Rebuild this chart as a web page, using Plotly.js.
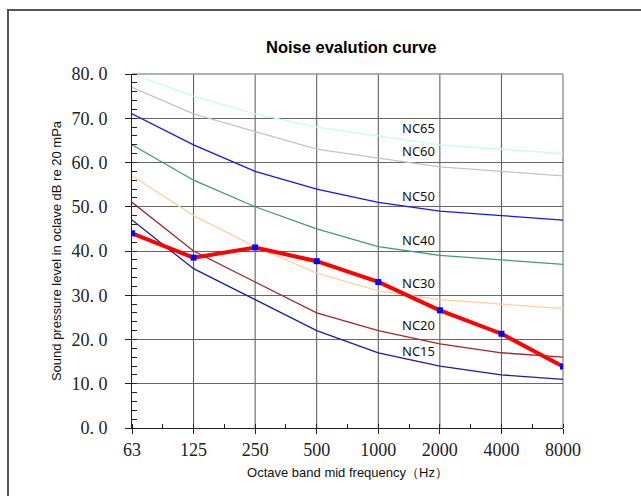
<!DOCTYPE html>
<html>
<head>
<meta charset="utf-8">
<script src="https://cdn.plot.ly/plotly-3.0.1.min.js"></script>
<style>
  html, body { margin: 0; padding: 0; background: #fff; }
  #wrap { position: relative; width: 641px; height: 496px; }
  #chart { position: absolute; left: 0; top: 0; width: 641px; height: 496px; }
  #frame { position: absolute; left: 7px; top: 9px; width: 700px; height: 600px;
           border-left: 2px solid #555; border-top: 2px solid #555; pointer-events: none; }
</style>
</head>
<body>
<div id="wrap">
  <div id="chart"></div>
  <div id="frame"></div>
</div>
<script>
// Octave band centre frequencies (category labels)
const frequencies = ["63", "125", "250", "500", "1000", "2000", "4000", "8000"];

// NC curves (dB)
const nc15 = [47, 36, 29, 22, 17, 14, 12, 11];
const nc20 = [51, 40, 33, 26, 22, 19, 17, 16];
const nc30 = [57, 48, 41, 35, 31, 29, 28, 27];
const nc40 = [64, 56, 50, 45, 41, 39, 38, 37];
const nc50 = [71, 64, 58, 54, 51, 49, 48, 47];
const nc60 = [77, 71, 67, 63, 61, 59, 58, 57];
const nc65 = [80, 75, 71, 68, 66, 64, 63, 62];

// Measured spectrum (dB)
const measured = [44, 38.5, 40.8, 37.7, 33, 26.6, 21.3, 13.9];

// Y tick labels
const yTickVals = [0, 10, 20, 30, 40, 50, 60, 70, 80];
const yTickText = ["0. 0", "10. 0", "20. 0", "30. 0", "40. 0", "50. 0", "60. 0", "70. 0", "80. 0"];

// Curve labels
const ncNames = ["NC65", "NC60", "NC50", "NC40", "NC30", "NC20", "NC15"];

// category index of each band (equal spacing, like a category axis)
const bandIndex = frequencies.map((f, i) => i);

function ncTrace(y, color) {
  return { x: bandIndex, y: y, type: "scatter", mode: "lines",
           line: { color: color, width: 1.3 }, hoverinfo: "skip", showlegend: false };
}

const traces = [
  ncTrace(nc65, "#c4fbfb"),
  ncTrace(nc60, "#c4c4c4"),
  ncTrace(nc50, "#1414ff"),
  ncTrace(nc40, "#3f9f6c"),
  ncTrace(nc30, "#fdd0a2"),
  ncTrace(nc20, "#9c2a2a"),
  ncTrace(nc15, "#1c1ca0"),
  { x: bandIndex, y: measured, type: "scatter", mode: "lines+markers",
    line: { color: "#ff0000", width: 4 },
    marker: { symbol: "square", size: 6, color: "#0000ff" },
    showlegend: false }
];

const labelY = [67.8, 62.6, 52.4, 42.5, 32.8, 23.3, 17.4];
const annotations = ncNames.map((n, i) => ({
  text: n, x: 4.95, y: labelY[i], xref: "x", yref: "y",
  xanchor: "right", yanchor: "middle", showarrow: false,
  font: { family: "Noto Sans, Liberation Sans, sans-serif", size: 13, color: "#111" }
}));

// vertical grid lines at each band, drawn below the data
const vGrid = bandIndex.slice(1, -1).map(i => ({
  type: "line", xref: "x", yref: "paper", x0: i, x1: i, y0: 0, y1: 1,
  line: { color: "#555", width: 1 }, layer: "below"
}));
// light top and right plot edges
const edges = [
  { type: "line", xref: "paper", yref: "paper", x0: 0, x1: 1, y0: 1, y1: 1, line: { color: "#999", width: 1.5 }, layer: "below" },
  { type: "line", xref: "paper", yref: "paper", x0: 1, x1: 1, y0: 0, y1: 1, line: { color: "#999", width: 1.5 }, layer: "below" }
];

const layout = {
  width: 641, height: 496,
  margin: { l: 132, r: 78, t: 74, b: 68 },
  paper_bgcolor: "#fff", plot_bgcolor: "#fff",
  title: { text: "<b>Noise evalution curve</b>", x: 0.548, xanchor: "center", y: 0.905, yanchor: "middle",
           font: { family: "Liberation Sans, Arial, sans-serif", size: 16.5, color: "#000" } },
  xaxis: {
    type: "linear", range: [0, 7],
    tickmode: "array", tickvals: bandIndex, ticktext: frequencies,
    showgrid: false,
    showline: true, linecolor: "#222", linewidth: 1,
    ticks: "outside", ticklen: 5, tickcolor: "#222",
    minor: { tickmode: "linear", tick0: 0, dtick: 0.5, ticks: "inside", ticklen: 4, tickcolor: "#222", showgrid: false },
    tickfont: { family: "Liberation Serif, DejaVu Serif, serif", size: 18, color: "#222" },
    ticklabelstandoff: 0,
    zeroline: false,
    title: { text: "Octave band mid frequency（Hz）", standoff: 9,
             font: { family: "Liberation Sans, Arial, sans-serif", size: 13, color: "#111" } }
  },
  yaxis: {
    range: [0, 80], tickmode: "array", tickvals: yTickVals, ticktext: yTickText,
    showgrid: true, gridcolor: "#666", gridwidth: 1,
    showline: true, linecolor: "#222", linewidth: 1,
    ticks: "outside", ticklen: 6, tickcolor: "#222",
    minor: { tickmode: "linear", tick0: 0, dtick: 2, ticks: "inside", ticklen: 5, tickcolor: "#222", showgrid: false },
    tickfont: { family: "Liberation Serif, DejaVu Serif, serif", size: 18, color: "#222" },
    ticklabelstandoff: 14,
    zeroline: false,
    title: { text: "Sound pressure level in oclave dB re 20 mPa", standoff: 6,
             font: { family: "Liberation Sans, Arial, sans-serif", size: 13, color: "#111" } }
  },
  shapes: vGrid.concat(edges),
  annotations: annotations,
  showlegend: false
};

Plotly.newPlot("chart", traces, layout, { displayModeBar: false, staticPlot: true });
</script>
</body>
</html>
